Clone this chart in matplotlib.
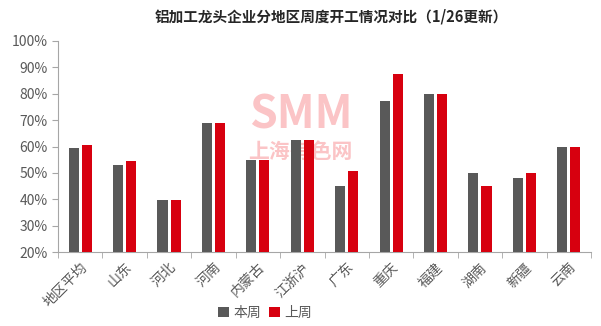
import numpy as np
import matplotlib.pyplot as plt
from matplotlib.ticker import FuncFormatter

plt.rcParams['font.family'] = ['Noto Sans CJK SC', 'DejaVu Sans']

regions = ['地区平均', '山东', '河北', '河南', '内蒙古', '江浙沪', '广东', '重庆', '福建', '湖南', '新疆', '云南']
this_week = [59.5, 53.0, 39.8, 69.0, 55.0, 62.5, 45.0, 77.3, 80.0, 50.0, 48.1, 60.0]
last_week = [60.6, 54.5, 39.8, 69.0, 55.0, 62.5, 50.8, 87.6, 80.0, 45.0, 50.0, 60.0]

fig = plt.figure(figsize=(6.01, 3.26), dpi=100)
ax = fig.add_axes([58/601, 74/326, 533/601, 211/326])
ax.patch.set_alpha(0)

x = np.arange(len(regions))
w = 0.227
gap = 0.068
ax.bar(x - (w + gap) / 2, this_week, w, color='#595959', label='本周', zorder=3)
ax.bar(x + (w + gap) / 2, last_week, w, color='#D7000F', label='上周', zorder=3)

ax.set_ylim(20, 100)
ax.set_xlim(-0.5, len(regions) - 0.5)
ax.set_yticks(range(20, 101, 10))
ax.yaxis.set_major_formatter(FuncFormatter(lambda v, p: f'{v:.0f}%'))
ax.set_xticks(x)
ax.set_xticklabels(regions, rotation=45, ha='right', rotation_mode='anchor')
ax.set_xticks(np.arange(-0.5, len(regions), 1), minor=True)

for s in ['top', 'right']:
    ax.spines[s].set_visible(False)
for s in ['left', 'bottom']:
    ax.spines[s].set_color('#A6A6A6')
ax.tick_params(axis='x', which='major', length=0, labelsize=10, colors='#595959', pad=6)
ax.tick_params(axis='x', which='minor', length=4, color='#A6A6A6')
ax.tick_params(axis='y', length=4, color='#A6A6A6', labelsize=10, labelcolor='#595959')

# watermark, behind the bars
fig.text(0.5, 1 - 116/326, 'SMM', fontsize=32, fontweight='heavy', color='#FBC4C6',
         ha='center', va='center', style='italic', zorder=-1)
fig.text(0.5, 1 - 151/326, '上海有色网', fontsize=15, fontweight='bold', color='#FBC4C6',
         ha='center', va='center', zorder=-1)

fig.text(0.552, 1 - 17/326, '铝加工龙头企业分地区周度开工情况对比（1/26更新）', fontsize=10.5,
         fontweight='bold', ha='center', va='center', color='#262626')

ax.legend(loc='center', bbox_to_anchor=(265/601, 1 - 313/326), bbox_transform=fig.transFigure,
          ncol=2, frameon=False, fontsize=10, handlelength=0.8, handleheight=0.8,
          handletextpad=0.3, columnspacing=0.6, labelcolor='#595959')

fig.savefig('out.png', dpi=100)
